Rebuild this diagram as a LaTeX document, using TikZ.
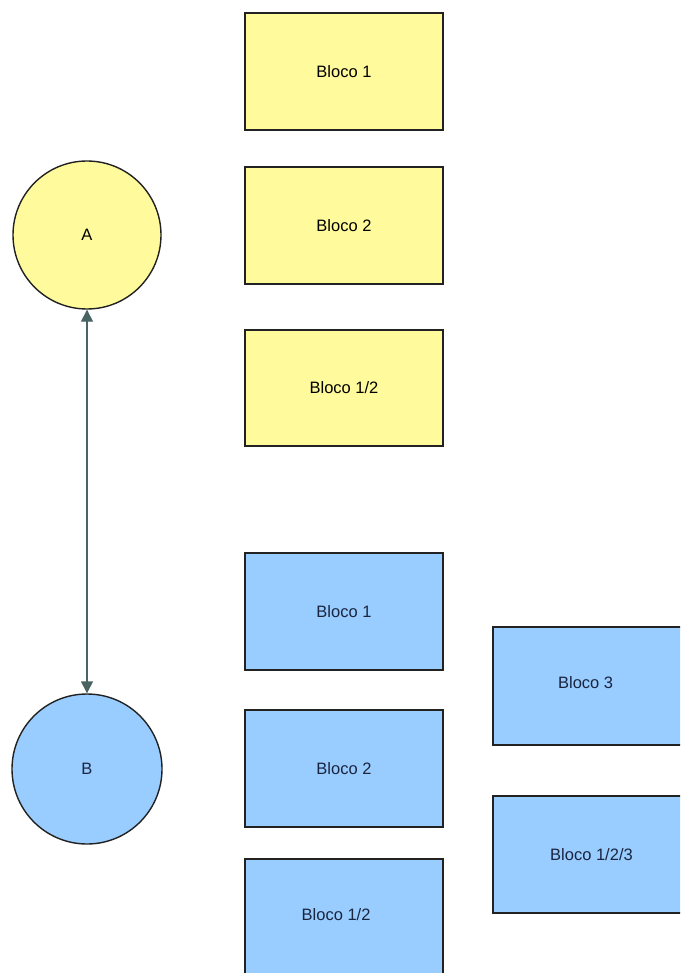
\documentclass[tikz,border=0pt]{standalone}
\usepackage{fontspec}
\setmainfont{Liberation Sans}
\usetikzlibrary{arrows.meta}
\definecolor{ylw}{HTML}{FFFA9C}
\definecolor{blu}{HTML}{99CCFF}
\definecolor{edge}{HTML}{222222}
\definecolor{conn}{HTML}{4A6464}
\definecolor{btxt}{HTML}{1A2540}
\begin{document}
\begin{tikzpicture}[x=1pt,y=-1pt,
  yblock/.style={draw=edge,line width=1.4pt,fill=ylw,font=\fontsize{16.5}{19}\selectfont,text=black},
  bblock/.style={draw=edge,line width=1.4pt,fill=blu,font=\fontsize{16.5}{19}\selectfont,text=btxt},
  ycirc/.style={circle,draw=edge,line width=1.4pt,fill=ylw,minimum size=148pt,inner sep=0pt,font=\fontsize{16.5}{19}\selectfont},
  bcirc/.style={circle,draw=edge,line width=1.4pt,fill=blu,minimum size=150pt,inner sep=0pt,font=\fontsize{16.5}{19}\selectfont,text=btxt},
  link/.style={draw=conn,line width=1.4pt,{Triangle[length=12pt,width=12pt]}-{Triangle[length=12pt,width=12pt]}}]
\useasboundingbox (0,0) rectangle (680,973);
\clip (0,0) rectangle (680,973);
\fill[white] (0,0) rectangle (680,973);
% yellow blocks
\draw[yblock] (245,13) rectangle (443,130) node[midway] (y1) {Bloco 1};
\draw[yblock] (245,167) rectangle (443,284) node[midway] (y2) {Bloco 2};
\draw[yblock] (245,330) rectangle (443,446) node[midway] (y3) {Bloco 1/2};
% blue blocks
\draw[bblock] (245,553) rectangle (443,670) node[midway] (b1) {Bloco 1};
\draw[bblock] (245,710) rectangle (443,827) node[midway] (b2) {Bloco 2};
\draw[bblock] (245,859) rectangle (443,980) node[pos=0.46] (b3) {Bloco 1/2};
\draw[bblock] (493,627) rectangle (690,745) node[pos=0.47] (b4) {Bloco 3};
\draw[bblock] (493,796) rectangle (690,913) node[pos=0.5] (b5) {Bloco 1/2/3};
% circles
\node[ycirc] (A) at (87,235) {A};
\node[bcirc] (B) at (87,769) {B};
\draw[link] (A) -- (B);
\end{tikzpicture}
\end{document}
